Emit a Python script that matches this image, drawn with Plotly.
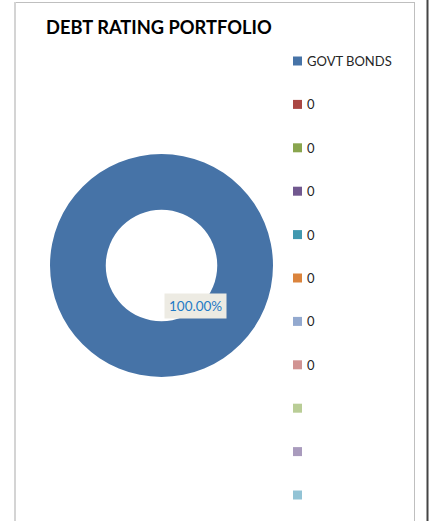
import plotly.graph_objects as go

W, H = 429, 521

# Portfolio composition
labels = ["GOVT BONDS", "0", "0", "0", "0", "0", "0", "0", "", "", ""]
values = [100, 0, 0, 0, 0, 0, 0, 0, 0, 0, 0]
colors = ["#4673A7", "#AA4643", "#89A54E", "#71588F", "#4198AF", "#DB843D",
          "#93A9CF", "#D19392", "#B9CD96", "#A99BBD", "#92C3D5"]
title = "DEBT RATING PORTFOLIO"


def px(x):
    return x / W


def py(y):
    return 1 - y / H


fig = go.Figure()

# Donut: only the non-zero slice is drawn
nz = [i for i, v in enumerate(values) if v > 0]
fig.add_trace(go.Pie(
    labels=[labels[i] for i in nz],
    values=[values[i] for i in nz],
    marker=dict(colors=[colors[i] for i in nz], line=dict(width=0)),
    hole=0.5,
    sort=False,
    direction="clockwise",
    textinfo="none",
    hoverinfo="label+percent",
    showlegend=False,
    domain=dict(x=[px(50), px(273)], y=[py(377), py(154)]),
))

shapes = []
annotations = []

# Chart frame
shapes.append(dict(type="line", xref="paper", yref="paper",
                   x0=px(14), x1=px(414.5), y0=py(2.5), y1=py(2.5),
                   line=dict(color="#BFBFBF", width=1)))
shapes.append(dict(type="line", xref="paper", yref="paper",
                   x0=px(15), x1=px(15), y0=py(2), y1=py(530),
                   line=dict(color="#D4D4D4", width=2)))
shapes.append(dict(type="line", xref="paper", yref="paper",
                   x0=px(414.5), x1=px(414.5), y0=py(2), y1=py(530),
                   line=dict(color="#BFBFBF", width=1)))
shapes.append(dict(type="line", xref="paper", yref="paper",
                   x0=px(427.5), x1=px(427.5), y0=py(0), y1=py(530),
                   line=dict(color="#454545", width=2)))

# Title
annotations.append(dict(text="<b>" + title + "</b>", xref="paper", yref="paper",
                        x=px(44), y=py(27), xanchor="left", yanchor="middle",
                        showarrow=False,
                        font=dict(family="Lato", size=18.3, color="#000000")))

# Data label for the slice share
total = sum(values)
pct = values[nz[0]] / total * 100
annotations.append(dict(text=f"{pct:.2f}%", xref="paper", yref="paper",
                        x=px(195), y=py(306), xanchor="center", yanchor="middle",
                        showarrow=False, bgcolor="#EDEBE3", borderpad=4,
                        font=dict(family="Lato", size=13.5, color="#1F7AC6")))

# Legend
leg_y0, leg_step = 61, 43.4
for i, (lab, col) in enumerate(zip(labels, colors)):
    yc = leg_y0 + i * leg_step
    shapes.append(dict(type="rect", xref="paper", yref="paper",
                       x0=px(293), x1=px(302), y0=py(yc + 4.5), y1=py(yc - 4.5),
                       fillcolor=col, line=dict(width=0)))
    if lab:
        annotations.append(dict(text=lab, xref="paper", yref="paper",
                                x=px(304.5), y=py(yc), xanchor="left", yanchor="middle",
                                showarrow=False,
                                font=dict(family="Lato", size=13, color="#262626")))

fig.update_layout(
    width=W, height=H,
    margin=dict(l=0, r=0, t=0, b=0),
    paper_bgcolor="#FFFFFF",
    plot_bgcolor="#FFFFFF",
    shapes=shapes,
    annotations=annotations,
)

fig.write_html("out.html")
